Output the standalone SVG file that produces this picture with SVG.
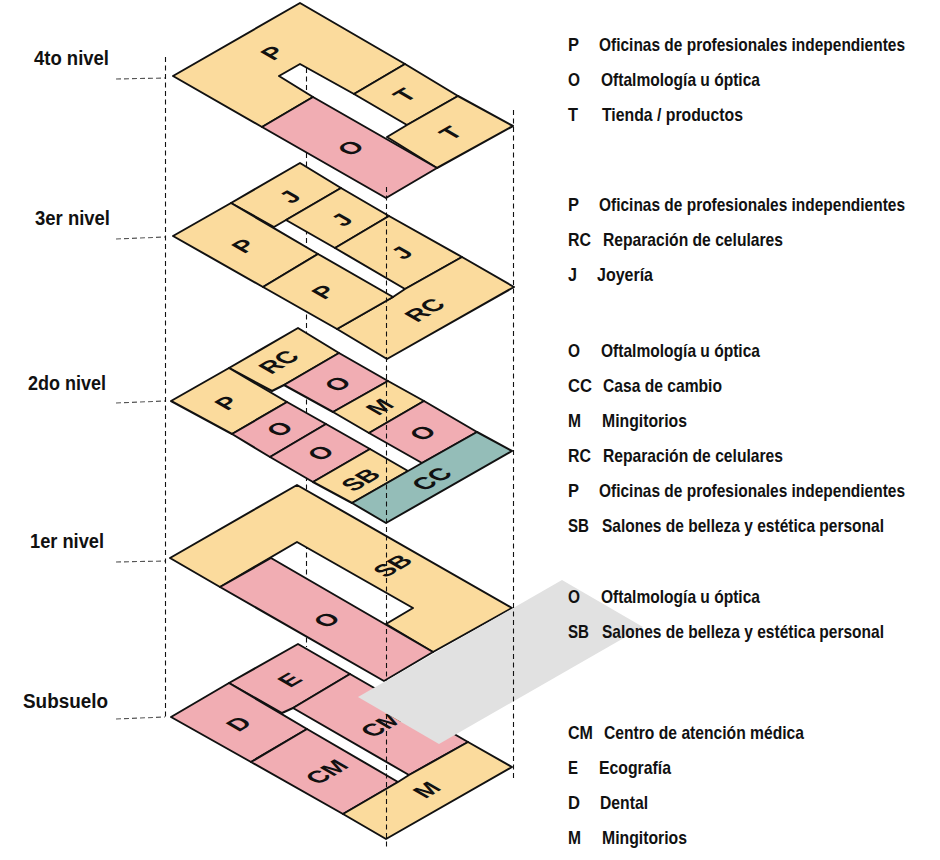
<svg xmlns="http://www.w3.org/2000/svg" width="940" height="860" viewBox="0 0 940 860">
<style>
.y{fill:#FBDB9D}.p{fill:#F1ADB3}.g{fill:#94BDB8}
polygon{stroke:#111;stroke-width:2;stroke-linejoin:round}
.d{fill:none;stroke:#111;stroke-width:1.1;stroke-dasharray:5 3.5}
.s{fill:none;stroke:#555;stroke-width:1.1;stroke-dasharray:5 3}
text{font-family:"Liberation Sans",Arial,sans-serif;font-weight:700;fill:#111}
.f{font-size:24px;text-anchor:middle}
.l{font-size:20px}
.k{font-size:18.5px}
</style>
<rect width="940" height="860" fill="#fff"/>
<g id="connectors-back"><line class="d" x1="306.5" y1="68" x2="306.5" y2="647"/></g>
<g id="nivel4">
<polygon class="y" points="300,3 405,64 354,94 300,64 279,76 313,97 262,127 173,76"/>
<polygon class="y" points="405,64 458,96 407,125 354,94"/>
<polygon class="y" points="458,96 513,126 437,168 387,137 407,125"/>
<polygon class="p" points="313,97 437,168 386,198 262,127"/>
<text class="f" transform="translate(273,53) matrix(.866,-.5,.866,.5,0,0)" y="8">P</text>
<text class="f" transform="translate(405,95) matrix(.866,-.5,.866,.5,0,0)" y="8">T</text>
<text class="f" transform="translate(451,133) matrix(.866,-.5,.866,.5,0,0)" y="8">T</text>
<text class="f" transform="translate(351,148) matrix(.866,-.5,.866,.5,0,0)" y="8">O</text>
</g>
<g id="nivel3">
<polygon class="y" points="300,163 341,188 286,220 274,227 231,203"/>
<polygon class="y" points="341,188 389,216 335,248 286,220"/>
<polygon class="y" points="389,216 462,257 405,289 335,248"/>
<polygon class="y" points="462,257 514,287 387,359 337,329 393,297 405,289"/>
<polygon class="y" points="231,203 318,254 263,287 173,236"/>
<polygon class="y" points="318,254 393,297 337,329 263,287"/>
<text class="f" transform="translate(290,197) matrix(.866,-.5,.866,.5,0,0)" y="8">J</text>
<text class="f" transform="translate(342,220) matrix(.866,-.5,.866,.5,0,0)" y="8">J</text>
<text class="f" transform="translate(402,253) matrix(.866,-.5,.866,.5,0,0)" y="8">J</text>
<text class="f" transform="translate(244,246) matrix(.866,-.5,.866,.5,0,0)" y="8">P</text>
<text class="f" transform="translate(324,292) matrix(.866,-.5,.866,.5,0,0)" y="8">P</text>
<text class="f" transform="translate(425,310) matrix(.866,-.5,.866,.5,0,0)" y="8">RC</text>
</g>
<g id="nivel2">
<polygon class="y" points="298,328 339,353 284,385 272,391 229,368"/>
<polygon class="y" points="229,368 287,402 232,434 171,401"/>
<polygon class="p" points="287,402 326,424 270,457 232,434"/>
<polygon class="p" points="326,424 370,449 313,482 270,457"/>
<polygon class="y" points="370,449 408,471 352,503 313,482"/>
<polygon class="p" points="339,353 388,381 333,412 284,385"/>
<polygon class="y" points="388,381 424,401 369,433 333,412"/>
<polygon class="p" points="424,401 477,432 422,463 369,433"/>
<polygon class="g" points="477,432 512,451 386,523 352,503 408,471 422,463"/>
<text class="f" transform="translate(279,362) matrix(.866,-.5,.866,.5,0,0)" y="8">RC</text>
<text class="f" transform="translate(227,403) matrix(.866,-.5,.866,.5,0,0)" y="8">P</text>
<text class="f" transform="translate(338,384) matrix(.866,-.5,.866,.5,0,0)" y="8">O</text>
<text class="f" transform="translate(380,407) matrix(.866,-.5,.866,.5,0,0)" y="8">M</text>
<text class="f" transform="translate(423,433) matrix(.866,-.5,.866,.5,0,0)" y="8">O</text>
<text class="f" transform="translate(280,429) matrix(.866,-.5,.866,.5,0,0)" y="8">O</text>
<text class="f" transform="translate(321,453) matrix(.866,-.5,.866,.5,0,0)" y="8">O</text>
<text class="f" transform="translate(361,480) matrix(.866,-.5,.866,.5,0,0)" y="8">SB</text>
<text class="f" transform="translate(432,479) matrix(.866,-.5,.866,.5,0,0)" y="8">CC</text>
</g>
<g id="nivel1">
<polygon class="y" points="297,485 512,608 433,652 386,624 413,608 297,542 220,587 170,558"/>
<polygon class="p" points="271,558 433,652 384,681 220,587"/>
<text class="f" transform="translate(393,566) matrix(.866,-.5,.866,.5,0,0)" y="8">SB</text>
<text class="f" transform="translate(327,620) matrix(.866,-.5,.866,.5,0,0)" y="8">O</text>
</g>
<g id="subsuelo">
<polygon class="p" points="298,644 350,674 293,708 282,713 229,683"/>
<polygon class="p" points="229,683 307,729 251,762 171,717"/>
<polygon class="p" points="307,729 398,782 343,814 251,762"/>
<polygon class="p" points="350,674 468,742 409,775 293,708"/>
<polygon class="y" points="468,742 512,767 386,839 343,814 398,782 409,775"/>
<text class="f" transform="translate(290,680) matrix(.866,-.5,.866,.5,0,0)" y="8">E</text>
<text class="f" transform="translate(239,724) matrix(.866,-.5,.866,.5,0,0)" y="8">D</text>
<text class="f" transform="translate(382,725) matrix(.866,-.5,.866,.5,0,0)" y="8">CM</text>
<text class="f" transform="translate(327,772) matrix(.866,-.5,.866,.5,0,0)" y="8">CM</text>
<text class="f" transform="translate(427,790) matrix(.866,-.5,.866,.5,0,0)" y="8">M</text>
</g>
<g id="connectors">
<line class="d" x1="165.5" y1="57" x2="165.5" y2="718"/>
<line class="d" x1="386.5" y1="187" x2="386.5" y2="849"/>
<line class="s" x1="116" y1="79" x2="165" y2="78"/>
<line class="s" x1="116" y1="239" x2="165" y2="237"/>
<line class="s" x1="116" y1="403" x2="165" y2="401"/>
<line class="s" x1="116" y1="562" x2="165" y2="561"/>
<line class="s" x1="116" y1="719" x2="165" y2="717"/>
</g>
<polygon id="gris" points="562,580 643,627 439,744 358,697" style="fill:#E1E1E1;stroke:none"/>
<g id="connectors-front"><line class="d" x1="513.5" y1="110" x2="513.5" y2="779"/></g>
<g id="niveles">
<text class="l" x="34" y="64.5" textLength="75" lengthAdjust="spacingAndGlyphs">4to nivel</text>
<text class="l" x="35" y="224.5" textLength="75" lengthAdjust="spacingAndGlyphs">3er nivel</text>
<text class="l" x="28" y="389.5" textLength="78" lengthAdjust="spacingAndGlyphs">2do nivel</text>
<text class="l" x="30" y="547.5" textLength="74" lengthAdjust="spacingAndGlyphs">1er nivel</text>
<text class="l" x="23" y="707.5" textLength="85" lengthAdjust="spacingAndGlyphs">Subsuelo</text>
</g>
<g id="leyenda">
<text class="k" x="568" y="51" textLength="11" lengthAdjust="spacingAndGlyphs">P</text><text class="k" transform="translate(599,51) scale(.85,1)" textLength="360" lengthAdjust="spacingAndGlyphs">Oficinas de profesionales independientes</text>
<text class="k" x="568" y="86" textLength="12" lengthAdjust="spacingAndGlyphs">O</text><text class="k" x="601" y="86" textLength="159" lengthAdjust="spacingAndGlyphs">Oftalmología u óptica</text>
<text class="k" x="568" y="121" textLength="10" lengthAdjust="spacingAndGlyphs">T</text><text class="k" x="602" y="121" textLength="141" lengthAdjust="spacingAndGlyphs">Tienda / productos</text>
<text class="k" x="568" y="211" textLength="11" lengthAdjust="spacingAndGlyphs">P</text><text class="k" transform="translate(599,211) scale(.85,1)" textLength="360" lengthAdjust="spacingAndGlyphs">Oficinas de profesionales independientes</text>
<text class="k" x="568" y="246" textLength="23" lengthAdjust="spacingAndGlyphs">RC</text><text class="k" x="603" y="246" textLength="180" lengthAdjust="spacingAndGlyphs">Reparación de celulares</text>
<text class="k" x="568" y="281" textLength="9" lengthAdjust="spacingAndGlyphs">J</text><text class="k" x="597" y="281" textLength="56" lengthAdjust="spacingAndGlyphs">Joyería</text>
<text class="k" x="568" y="357" textLength="12" lengthAdjust="spacingAndGlyphs">O</text><text class="k" x="601" y="357" textLength="159" lengthAdjust="spacingAndGlyphs">Oftalmología u óptica</text>
<text class="k" x="568" y="392" textLength="24" lengthAdjust="spacingAndGlyphs">CC</text><text class="k" x="603" y="392" textLength="119" lengthAdjust="spacingAndGlyphs">Casa de cambio</text>
<text class="k" x="568" y="427" textLength="13" lengthAdjust="spacingAndGlyphs">M</text><text class="k" x="602" y="427" textLength="85" lengthAdjust="spacingAndGlyphs">Mingitorios</text>
<text class="k" x="568" y="462" textLength="23" lengthAdjust="spacingAndGlyphs">RC</text><text class="k" x="603" y="462" textLength="180" lengthAdjust="spacingAndGlyphs">Reparación de celulares</text>
<text class="k" x="568" y="497" textLength="11" lengthAdjust="spacingAndGlyphs">P</text><text class="k" transform="translate(599,497) scale(.85,1)" textLength="360" lengthAdjust="spacingAndGlyphs">Oficinas de profesionales independientes</text>
<text class="k" x="568" y="532" textLength="21" lengthAdjust="spacingAndGlyphs">SB</text><text class="k" x="602" y="532" textLength="282" lengthAdjust="spacingAndGlyphs">Salones de belleza y estética personal</text>
<text class="k" x="568" y="603" textLength="12" lengthAdjust="spacingAndGlyphs">O</text><text class="k" x="601" y="603" textLength="159" lengthAdjust="spacingAndGlyphs">Oftalmología u óptica</text>
<text class="k" x="568" y="638" textLength="21" lengthAdjust="spacingAndGlyphs">SB</text><text class="k" x="602" y="638" textLength="282" lengthAdjust="spacingAndGlyphs">Salones de belleza y estética personal</text>
<text class="k" x="568" y="739" textLength="25" lengthAdjust="spacingAndGlyphs">CM</text><text class="k" x="604" y="739" textLength="200" lengthAdjust="spacingAndGlyphs">Centro de atención médica</text>
<text class="k" x="568" y="774" textLength="10" lengthAdjust="spacingAndGlyphs">E</text><text class="k" x="599" y="774" textLength="72" lengthAdjust="spacingAndGlyphs">Ecografía</text>
<text class="k" x="568" y="809" textLength="12" lengthAdjust="spacingAndGlyphs">D</text><text class="k" x="600" y="809" textLength="48" lengthAdjust="spacingAndGlyphs">Dental</text>
<text class="k" x="568" y="844" textLength="13" lengthAdjust="spacingAndGlyphs">M</text><text class="k" x="602" y="844" textLength="85" lengthAdjust="spacingAndGlyphs">Mingitorios</text>
</g>
</svg>
